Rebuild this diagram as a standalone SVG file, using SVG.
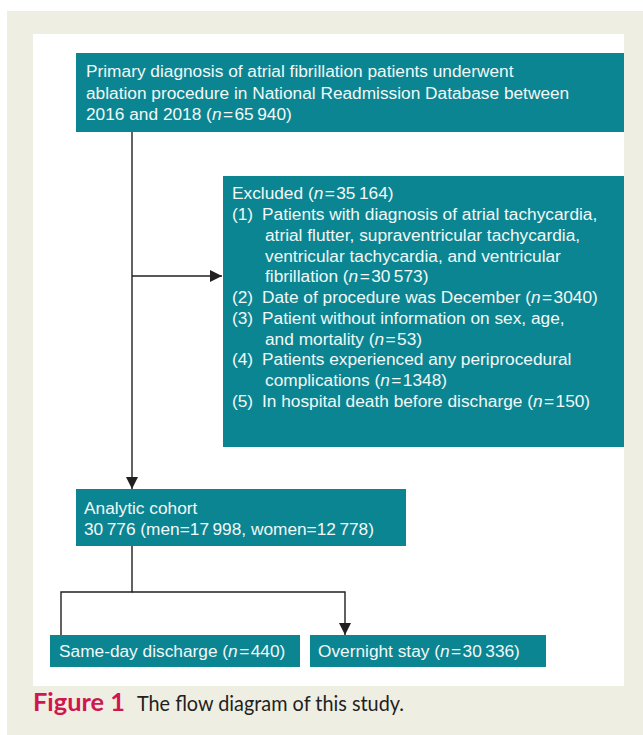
<svg xmlns="http://www.w3.org/2000/svg" width="643" height="735" viewBox="0 0 643 735">
<style>
.box{fill:#0b8591}
.t{font-family:"Liberation Sans",Arial,sans-serif;font-size:17.3px;fill:#f2f8f8}
.i{font-style:italic}
.c{stroke:#231f20;stroke-width:1.4;fill:none}
.cap{font-family:Lato,"Open Sans",sans-serif}
</style>
<defs>
<marker id="ah" viewBox="0 0 12 12" refX="12" refY="6" markerWidth="12" markerHeight="12" markerUnits="userSpaceOnUse" orient="auto">
<path d="M0,0 L12,6 L0,12 Z" fill="#231f20"/>
</marker>
</defs>
<rect x="0" y="0" width="643" height="735" fill="#ffffff"/>
<rect x="7" y="11" width="636" height="724" fill="#efeee3"/>
<rect x="33" y="34" width="591" height="652" fill="#ffffff"/>

<g id="connectors">
<path class="c" d="M132,132 V489" marker-end="url(#ah)"/>
<path class="c" d="M132,276 H222" marker-end="url(#ah)"/>
<path class="c" d="M132,546 V592 H61 V635"/>
<path class="c" d="M132,592 H345 V635" marker-end="url(#ah)"/>
</g>

<g id="node-primary">
<rect class="box" x="76" y="53" width="548" height="79"/>
<text class="t" x="86" y="77">Primary diagnosis of atrial fibrillation patients underwent</text>
<text class="t" x="86" y="99">ablation procedure in National Readmission Database between</text>
<text class="t" x="86" y="120">2016 and 2018 (<tspan class="i">n</tspan>&#8202;=&#8202;65&#8201;940)</text>
</g>

<g id="node-excluded">
<rect class="box" x="223" y="176" width="401" height="271"/>
<text class="t" x="232" y="199">Excluded (<tspan class="i">n</tspan>&#8202;=&#8202;35&#8201;164)</text>
<text class="t" x="232" y="220">(1)</text>
<text class="t" x="262" y="220">Patients with diagnosis of atrial tachycardia,</text>
<text class="t" x="265" y="241">atrial flutter, supraventricular tachycardia,</text>
<text class="t" x="265" y="261.5">ventricular tachycardia, and ventricular</text>
<text class="t" x="265" y="282">fibrillation (<tspan class="i">n</tspan>&#8202;=&#8202;30&#8201;573)</text>
<text class="t" x="232" y="303">(2)</text>
<text class="t" x="262" y="303">Date of procedure was December (<tspan class="i">n</tspan>&#8202;=&#8202;3040)</text>
<text class="t" x="232" y="324">(3)</text>
<text class="t" x="262" y="324">Patient without information on sex, age,</text>
<text class="t" x="265" y="344.5">and mortality (<tspan class="i">n</tspan>&#8202;=&#8202;53)</text>
<text class="t" x="232" y="365">(4)</text>
<text class="t" x="262" y="365">Patients experienced any periprocedural</text>
<text class="t" x="265" y="386">complications (<tspan class="i">n</tspan>&#8202;=&#8202;1348)</text>
<text class="t" x="232" y="407">(5)</text>
<text class="t" x="262" y="407">In hospital death before discharge (<tspan class="i">n</tspan>&#8202;=&#8202;150)</text>
</g>

<g id="node-cohort">
<rect class="box" x="76" y="489" width="330" height="57"/>
<text class="t" x="84" y="514">Analytic cohort</text>
<text class="t" x="84" y="535">30&#8201;776 (men=17&#8201;998, women=12&#8201;778)</text>
</g>

<g id="node-sameday">
<rect class="box" x="50" y="635" width="250" height="32"/>
<text class="t" x="59" y="657">Same-day discharge (<tspan class="i">n</tspan>&#8202;=&#8202;440)</text>
</g>

<g id="node-overnight">
<rect class="box" x="310" y="635" width="236" height="32"/>
<text class="t" x="318" y="657">Overnight stay (<tspan class="i">n</tspan>&#8202;=&#8202;30&#8201;336)</text>
</g>

<g id="caption">
<text class="cap" x="33" y="711" font-size="24" font-weight="bold" fill="#d0164f" textLength="92" lengthAdjust="spacingAndGlyphs">Figure 1</text>
<text class="cap" x="137" y="711" font-size="21" fill="#231f20" textLength="267" lengthAdjust="spacingAndGlyphs">The flow diagram of this study.</text>
</g>
</svg>
